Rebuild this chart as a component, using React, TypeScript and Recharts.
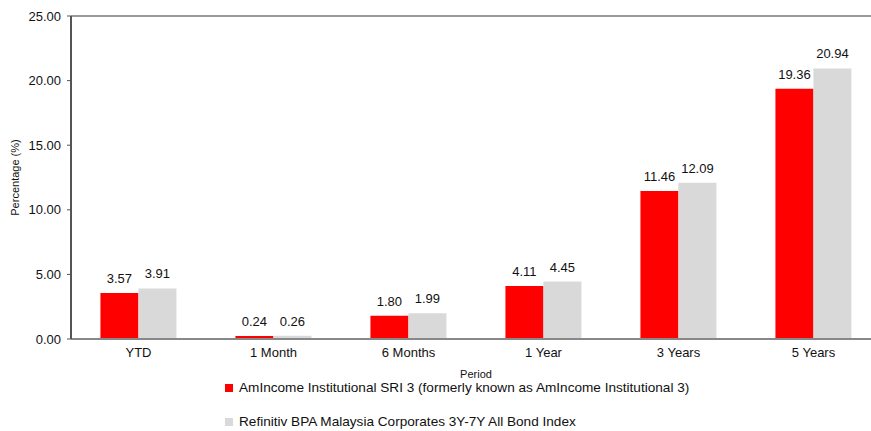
import React from 'react';
import { BarChart, Bar, XAxis, YAxis, LabelList, Legend, ReferenceLine, Label } from 'recharts';

const categories = ['YTD', '1 Month', '6 Months', '1 Year', '3 Years', '5 Years'];
const fundValues = [3.57, 0.24, 1.8, 4.11, 11.46, 19.36];
const indexValues = [3.91, 0.26, 1.99, 4.45, 12.09, 20.94];
const yTicks = [0, 5, 10, 15, 20, 25];
const fundName = 'AmIncome Institutional SRI 3 (formerly known as AmIncome Institutional 3)';
const indexName = 'Refinitiv BPA Malaysia Corporates 3Y-7Y All Bond Index';

const data = categories.map((c, i) => ({ period: c, fund: fundValues[i], index: indexValues[i] }));

const FONT = '"Liberation Sans", Arial, Helvetica, sans-serif';

const renderLegend = () => (
  <div style={{ position: 'relative', width: 871, height: 52, fontFamily: FONT, fontSize: 13.6, color: '#111' }}>
    <div style={{ position: 'absolute', left: 225, top: 5, width: 8, height: 8, background: '#ff0000' }} />
    <div style={{ position: 'absolute', left: 239, top: 1, lineHeight: '16px', whiteSpace: 'nowrap' }}>{fundName}</div>
    <div style={{ position: 'absolute', left: 225, top: 39, width: 8, height: 8, background: '#d9d9d9' }} />
    <div style={{ position: 'absolute', left: 239, top: 35, lineHeight: '16px', whiteSpace: 'nowrap' }}>{indexName}</div>
  </div>
);

export default function App() {
  return (
    <div style={{ position: 'absolute', left: 0, top: 0, width: 871, height: 431, background: '#fff', overflow: 'hidden' }}>
      <BarChart
        width={881}
        height={431}
        data={data}
        margin={{ top: 16, right: 0, bottom: 0, left: 0 }}
        barCategoryGap="21.8%"
        barGap={0}
        style={{ fontFamily: FONT }}
      >
        <ReferenceLine y={25} stroke="#999" strokeWidth={2} />
        <XAxis
          dataKey="period"
          height={40}
          tickLine={false}
          tickSize={0}
          tickMargin={9}
          axisLine={{ stroke: '#888', strokeWidth: 2 }}
          tick={{ fill: '#111', fontSize: 13 }}
          interval={0}
        >
          <Label value="Period" position="insideBottom" offset={1} fill="#111" fontSize={11} />
        </XAxis>
        <YAxis
          width={71}
          domain={[0, 25]}
          ticks={yTicks}
          tickFormatter={(v: number) => v.toFixed(2)}
          tickSize={4}
          tickMargin={6}
          axisLine={{ stroke: '#555', strokeWidth: 2 }}
          tickLine={{ stroke: '#555' }}
          tick={{ fill: '#111', fontSize: 13 }}
        >
          <Label value="Percentage (%)" angle={-90} position="center" dx={-20} fill="#111" fontSize={11} />
        </YAxis>
        <Legend verticalAlign="bottom" height={52} content={renderLegend} />
        <Bar dataKey="fund" name={fundName} fill="#ff0000" isAnimationActive={false}>
          <LabelList dataKey="fund" position="top" offset={10} formatter={(v: number) => v.toFixed(2)} fill="#111" fontSize={13} />
        </Bar>
        <Bar dataKey="index" name={indexName} fill="#d9d9d9" isAnimationActive={false}>
          <LabelList dataKey="index" position="top" offset={10} formatter={(v: number) => v.toFixed(2)} fill="#111" fontSize={13} />
        </Bar>
      </BarChart>
    </div>
  );
}
